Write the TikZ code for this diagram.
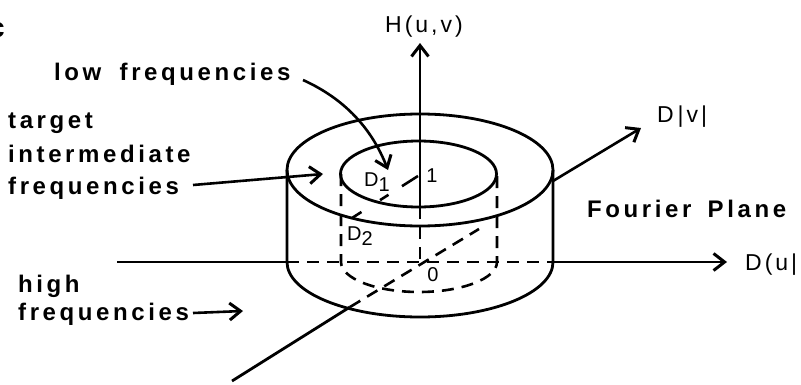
\documentclass[tikz,border=0pt]{standalone}
\usepackage{fontspec}
\setmainfont{Liberation Sans}
\newfontfamily\wordfont[LetterSpace=15]{Liberation Sans}
\newfontfamily\axisfont[LetterSpace=13]{Liberation Sans}
\usepackage{tikz}
\usetikzlibrary{arrows.meta, positioning, calc}
\tikzset{
    curve/.style={line width=2.8pt},
    hidden/.style={line width=2.6pt, dash pattern=on 12pt off 8pt},
    pointer/.style={line width=2.6pt, -{Straight Barb[length=11pt, width=17pt, line width=3pt]}},
    word/.style={font=\wordfont\bfseries\fontsize{24}{26}\selectfont, inner sep=0pt, anchor=base west},
    axislabel/.style={font=\axisfont\fontsize{23}{26}\selectfont, inner sep=0pt, anchor=base west},
    tick/.style={font=\fontsize{20}{24}\selectfont, inner sep=0pt}
}
\begin{document}
\begin{tikzpicture}[x=1pt, y=1pt]
        \useasboundingbox (0,0) rectangle (801,384);
        \coordinate (Origin) at (420,122);
        \coordinate (TopOuter) at (420,214);
        \coordinate (TopInner) at (418.5,210);

        % axis ends
        \coordinate (HTop) at (420,341);
        \coordinate (HFoot) at (420,177);
        \coordinate (ULeft) at (117,122);
        \coordinate (UEnter) at (287,122);
        \coordinate (UExit) at (553,122);
        \coordinate (URight) at (727,122);
        \coordinate (VFoot) at (232,3);
        \coordinate (VEnter) at (350,77);
        \coordinate (VHide) at (479,155);
        \coordinate (VExit) at (553,203);
        \coordinate (VTip) at (641,256);

        \node[font=\bfseries\fontsize{28}{30}\selectfont, inner sep=0pt] (Panel) at (-3,354) {c};
        \node[axislabel] (HLabel) at (385,352) {H(u,v)};
        \node[axislabel] (VLabel) at (657,262) {D\,|v|};
        \node[axislabel] (ULabel) at (745,114) {D(u|};
        \node[word] (Plane) at (587,167) {Fourier\hspace{6pt} Plane};
        \node[word] (Low) at (54,304) {low\hspace{8pt} frequencies};
        \node[word] (Target) at (8,256) {target};
        \node[word] (Inter) at (8,222) {intermediate};
        \node[word] (Mid) at (8,190) {frequencies};
        \node[word] (High) at (18,92) {high};
        \node[word] (Outer) at (18,64) {frequencies};
        \node[tick] (One) at (432,208) {1};
        \node[tick] (Zero) at (433,109) {0};
        \node[tick] (RadA) at (377,202) {D\raisebox{-5pt}{1}};
        \node[tick] (RadB) at (360,148) {D\raisebox{-5pt}{2}};

        % the cylinder
        \draw[curve] (TopOuter) ellipse [x radius=133, y radius=56];
        \draw[curve] (TopInner) ellipse [x radius=78, y radius=33];
        \draw[curve] (287,214) -- (287,122) arc [start angle=180, end angle=360, x radius=133, y radius=55] -- (553,214);
        \draw[hidden] (341,210) -- (341,122) arc [start angle=180, end angle=360, x radius=78, y radius=30] -- (497,210);

        % the axes
        \draw[pointer] (HFoot) -- (HTop);
        \draw[hidden] (HFoot) -- (Origin);
        \draw[curve] (ULeft) -- (UEnter);
        \draw[hidden] (UEnter) -- (UExit);
        \draw[pointer] (UExit) -- (URight);
        \draw[curve] (VFoot) -- (VEnter);
        \draw[hidden] (VEnter) -- (VHide);
        \draw[pointer] (VExit) -- (VTip);

        % radii
        \coordinate (RadStart) at (418,208);
        \coordinate (RadEnd) at (352,166);
        \draw[line width=2.6pt, dash pattern=on 19pt off 16pt on 10pt off 22pt on 12pt off 100pt] (RadStart) -- (RadEnd);

        % pointers from the labels
        \coordinate (LowTip) at (388,214);
        \coordinate (MidTip) at (323,210);
        \coordinate (OuterTip) at (243,73);
        \coordinate (LowTail) at (303,304);
        \coordinate (MidTail) at (193,199);
        \coordinate (OuterTail) at (193,71);
        \draw[pointer] (LowTail) .. controls (345,285) and (372,255) .. (LowTip);
        \draw[pointer] (MidTail) -- (MidTip);
        \draw[pointer] (OuterTail) -- (OuterTip);
    \end{tikzpicture}
\end{document}
